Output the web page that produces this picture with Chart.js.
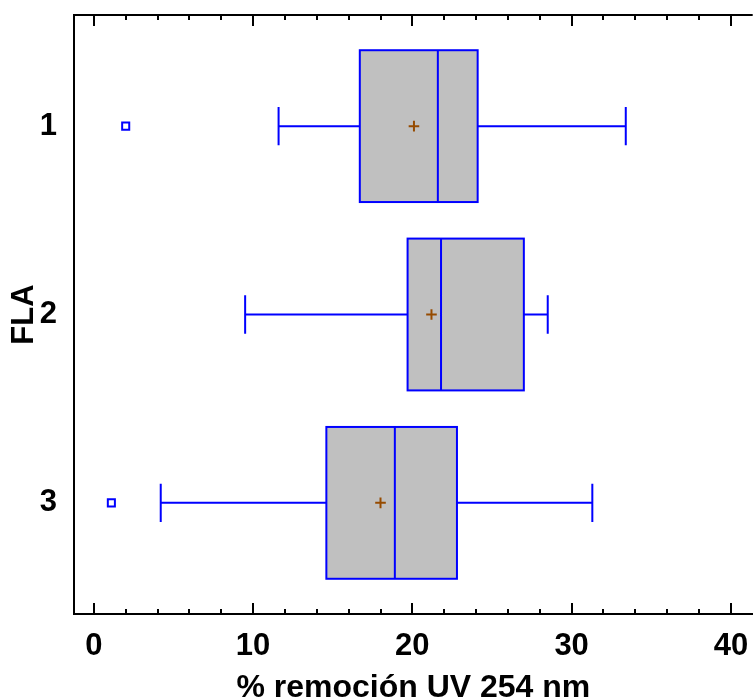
<!DOCTYPE html>
<html>
<head>
<meta charset="utf-8">
<script src="https://cdn.jsdelivr.net/npm/chart.js@4/dist/chart.umd.min.js"></script>
<style>
  html, body { margin: 0; padding: 0; background: #fff; overflow: hidden; }
  #wrap { width: 760px; height: 700px; overflow: hidden; }
</style>
</head>
<body>
<div id="wrap"><canvas id="myChart" width="760" height="707"></canvas></div>
<script>
// FLA groups (y positions 1..3)
const groups = [1, 2, 3];
const groupLabels = ["1", "2", "3"];

// box plot stats, % remoción UV 254 nm
const whiskerLow = [11.6, 9.5, 4.2];
const q1 = [16.7, 19.7, 14.6];
const median = [21.6, 21.8, 18.9];
const q3 = [24.1, 27.0, 22.8];
const whiskerHigh = [33.4, 28.5, 31.3];
const means = [20.1, 21.2, 18.0];

// outliers
const outlierGroup = [1, 3];
const outlierValue = [2.0, 1.1];

const xTicks = [0, 10, 20, 30, 40];
const xMinorStep = 2;

const FONT = "'Liberation Sans', Arial, sans-serif";

// boxes and whiskers drawn from the scales
const boxPlugin = {
  id: "boxes",
  beforeDatasetsDraw(chart) {
    const ctx = chart.ctx;
    const xs = chart.scales.x;
    const ys = chart.scales.y;
    ctx.save();
    groups.forEach((g, i) => {
      const yc = ys.getPixelForValue(g);
      const yTop = ys.getPixelForValue(g - 0.403);
      const yBot = ys.getPixelForValue(g + 0.403);
      const capTop = ys.getPixelForValue(g - 0.102);
      const capBot = ys.getPixelForValue(g + 0.102);
      const xLo = xs.getPixelForValue(whiskerLow[i]);
      const xQ1 = xs.getPixelForValue(q1[i]);
      const xMed = xs.getPixelForValue(median[i]);
      const xQ3 = xs.getPixelForValue(q3[i]);
      const xHi = xs.getPixelForValue(whiskerHigh[i]);

      ctx.fillStyle = "#C0C0C0";
      ctx.fillRect(xQ1, yTop, xQ3 - xQ1, yBot - yTop);
      ctx.strokeStyle = "#0000FF";
      ctx.lineWidth = 2;
      ctx.strokeRect(xQ1, yTop, xQ3 - xQ1, yBot - yTop);

      ctx.beginPath();
      ctx.moveTo(xMed, yTop); ctx.lineTo(xMed, yBot);
      ctx.moveTo(xLo, yc); ctx.lineTo(xQ1, yc);
      ctx.moveTo(xQ3, yc); ctx.lineTo(xHi, yc);
      ctx.moveTo(xLo, capTop); ctx.lineTo(xLo, capBot);
      ctx.moveTo(xHi, capTop); ctx.lineTo(xHi, capBot);
      ctx.stroke();
    });
    ctx.restore();
  },
  afterDraw(chart) {
    const ctx = chart.ctx;
    const xs = chart.scales.x;
    const area = chart.chartArea;
    ctx.save();
    ctx.strokeStyle = "#000";
    ctx.lineWidth = 2;
    // top frame line
    ctx.beginPath();
    ctx.moveTo(area.left - 1, area.top);
    ctx.lineTo(area.right, area.top);
    ctx.stroke();
    // inward ticks, top and bottom
    ctx.beginPath();
    for (let v = xTicks[0]; v <= xs.max; v += xMinorStep) {
      const px = Math.round(xs.getPixelForValue(v));
      const len = xTicks.includes(v) ? 11 : 5;
      ctx.moveTo(px, area.bottom);
      ctx.lineTo(px, area.bottom - len);
      ctx.moveTo(px, area.top);
      ctx.lineTo(px, area.top + len);
    }
    ctx.stroke();
    ctx.restore();
  }
};

const data = {
  datasets: [
    {
      label: "Media",
      data: groups.map((g, i) => ({ x: means[i], y: g })),
      pointStyle: "cross",
      pointRadius: 5.3,
      borderColor: "#964B00",
      borderWidth: 2,
    },
    {
      label: "Atípicos",
      data: outlierGroup.map((g, i) => ({ x: outlierValue[i], y: g })),
      pointStyle: "rect",
      pointRadius: 5,
      borderColor: "#0000FF",
      backgroundColor: "rgba(0,0,0,0)",
      borderWidth: 2,
    },
  ],
};

const config = {
  type: "scatter",
  data: data,
  plugins: [boxPlugin],
  options: {
    responsive: false,
    animation: false,
    layout: { padding: { top: 15, right: 2, bottom: 0, left: 0 } },
    plugins: { legend: { display: false }, tooltip: { enabled: false } },
    scales: {
      x: {
        type: "linear",
        min: -1.246,
        max: 41.37,
        afterBuildTicks: (s) => { s.ticks = xTicks.map((v) => ({ value: v })); },
        afterFit: (s) => { s.height = 93; s.paddingLeft = 0; s.paddingRight = 0; },
        grid: { display: false, drawTicks: false },
        border: { display: true, color: "#000", width: 2 },
        ticks: { color: "#000", padding: 14, maxRotation: 0, font: { family: FONT, size: 31, weight: "bold" } },
        title: {
          display: true,
          text: "% remoción UV 254 nm",
          color: "#000",
          padding: 0,
          font: { family: FONT, size: 32, weight: "bold" },
        },
      },
      y: {
        type: "linear",
        reverse: true,
        min: 0.41,
        max: 3.59,
        afterBuildTicks: (s) => { s.ticks = groups.map((v) => ({ value: v })); },
        afterFit: (s) => { s.width = 74; s.paddingTop = 0; s.paddingBottom = 0; },
        grid: { display: false, drawTicks: false },
        border: { display: true, color: "#000", width: 2 },
        ticks: {
          color: "#000",
          padding: 17,
          callback: (v) => groupLabels[groups.indexOf(v)],
          font: { family: FONT, size: 31, weight: "bold" },
        },
        title: {
          display: true,
          text: "FLA",
          color: "#000",
          padding: 6,
          font: { family: FONT, size: 31, weight: "bold" },
        },
      },
    },
  },
};

const chart = new Chart(document.getElementById("myChart"), config);
</script>
</body>
</html>
